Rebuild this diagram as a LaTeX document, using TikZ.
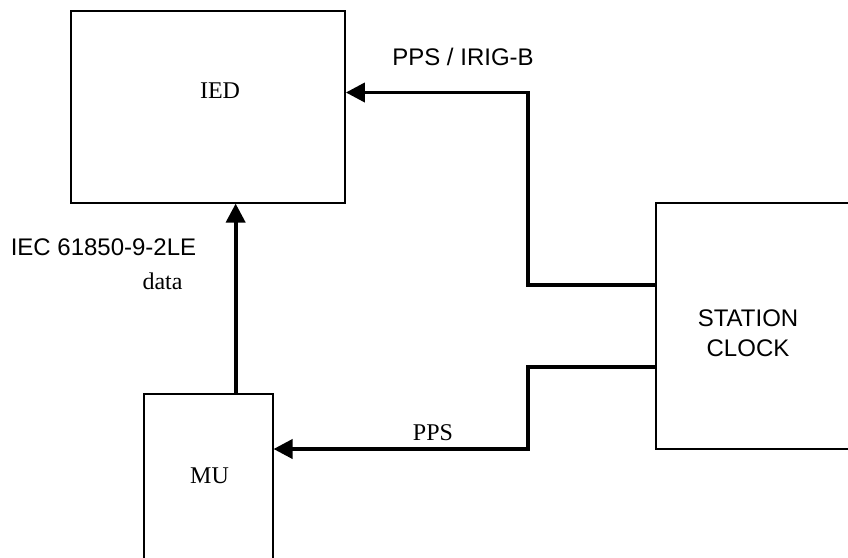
\documentclass[tikz,border=0pt]{standalone}
\usepackage{fontspec}
\setmainfont{Liberation Serif}
\newfontfamily\arialfont{Liberation Sans}
\usetikzlibrary{arrows.meta,calc}
\begin{document}
\begin{tikzpicture}[x=1pt,y=-1pt,
  box/.style={draw,line width=1.7pt,rectangle,inner sep=0pt},
  conn/.style={line width=3.8pt,line join=miter},
  arr/.style={-{Triangle[length=19pt,width=19pt]}},
  serif/.style={font=\fontsize{24}{30}\selectfont,inner sep=0pt,anchor=base},
  sans/.style={font=\arialfont\fontsize{24}{30}\selectfont,inner sep=0pt,anchor=base}]
\useasboundingbox (0,0) rectangle (848,557);
\clip (0,0) rectangle (848,557);
% boxes
\node[box,minimum width=274.3pt,minimum height=191.7pt] (ied) at (207.85,106.85) {};
\node[box,minimum width=214.3pt,minimum height=246.3pt] (clock) at (762.85,325.85) {};
\node[box,minimum width=128.7pt,minimum height=200pt] (mu) at (208.35,494) {};
% texts
\node[serif] (tied) at (220,98) {IED};
\node[serif] (tmu) at (209.5,483) {MU};
\node[sans] (tirig) at (463,65) {PPS / IRIG-B};
\node[sans] (tiec) at (103.5,255) {IEC 61850-9-2LE};
\node[serif] (tdata) at (162.5,289) {data};
\node[serif] (tpps) at (433,440) {PPS};
\node[sans,align=center] (tclock) at (748,356) {STATION\\CLOCK};
% junctions
\coordinate (j1) at (528.3,92.5);
\coordinate (j2) at (528.3,449);
\coordinate (mutop) at ([xshift=27.3pt]mu.north);
% connectors
\draw[conn,arr] ([yshift=41pt]clock.west) -| (j1) -- (ied.east |- j1);
\draw[conn,arr] ([yshift=-41pt]clock.west) -| (j2) -- (mu.east |- j2);
\draw[conn,arr] (mutop) -- (ied.south -| mutop);
\end{tikzpicture}
\end{document}
